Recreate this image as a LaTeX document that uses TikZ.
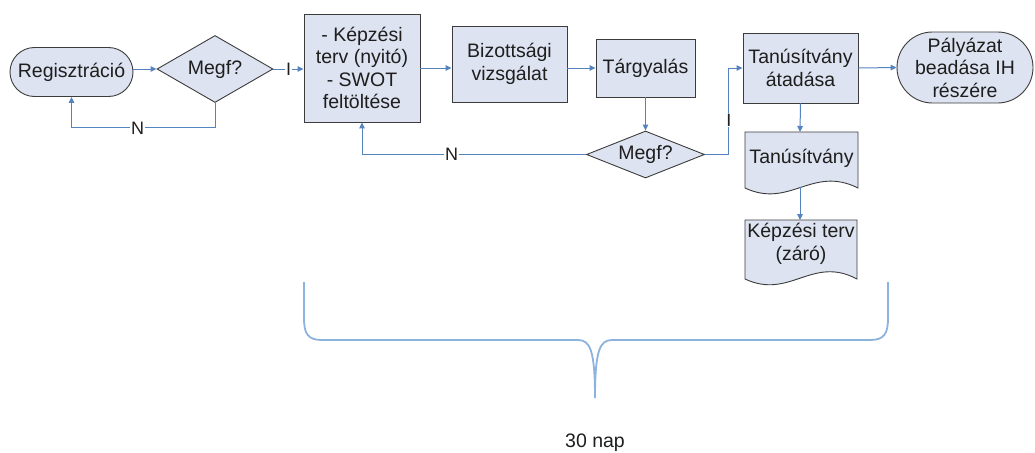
\documentclass[tikz,border=0pt]{standalone}
\usepackage{fontspec}
\setmainfont{Liberation Sans}
\usetikzlibrary{shapes.geometric,arrows.meta}
\definecolor{boxfill}{RGB}{221,227,240}
\definecolor{boxline}{RGB}{60,60,60}
\definecolor{arr}{RGB}{84,131,192}
\definecolor{bracecol}{RGB}{140,178,222}
\definecolor{txt}{RGB}{30,30,30}
\begin{document}
\begin{tikzpicture}[x=1pt,y=-1pt,
  base/.style={draw=boxline, fill=boxfill, line width=0.9pt, text=txt,
    font=\fontsize{19.5}{22.5}\selectfont, align=center, inner sep=0pt},
  procbox/.style={base, rectangle},
  termbox/.style={base, rectangle},
  decision/.style={base, diamond},
  doctext/.style={text=txt, font=\fontsize{19.5}{22.5}\selectfont, align=center, inner sep=0pt},
  conn/.style={draw=arr, line width=1pt, -{Triangle[length=6pt,width=5.5pt]}},
  lbl/.style={fill=white, text=txt, font=\fontsize{18}{20}\selectfont, inner sep=1pt},
  bracestyle/.style={draw=bracecol, line width=1.8pt}]
\useasboundingbox (0,0) rectangle (1035,452);

% nodes
\node[termbox, rounded corners=24.5pt, minimum width=123pt, minimum height=49pt] (reg) at (71.5,72) {Regisztráció};
\node[decision, aspect=1.73, minimum width=116pt, minimum height=67pt] (d1) at (215,69) {Megf?};
\node[procbox, minimum width=116pt, minimum height=108pt] (b1) at (362,68) {- Képzési\\terv (nyitó)\\- SWOT\\feltöltése};
\node[procbox, minimum width=115pt, minimum height=76pt] (b2) at (509.5,64) {Bizottsági\\vizsgálat};
\node[procbox, minimum width=99pt, minimum height=58pt] (b3) at (645.5,68) {Tárgyalás};
\node[decision, aspect=2.5, minimum width=118pt, minimum height=47pt] (d2) at (645.5,154.5) {Megf?};
\node[procbox, minimum width=115pt, minimum height=70pt] (b4) at (800.5,68) {Tanúsítvány\\átadása};
\node[termbox, rounded corners=35.5pt, minimum width=136pt, minimum height=71pt] (pal) at (965,67.5) {Pályázat\\beadása IH\\részére};

% documents
\draw[base] (745,132) -- (858,132) -- (858,188) .. controls (812,165) and (790,209) .. (745,188) -- cycle;
\node[doctext] (doc1) at (801.5,158) {Tanúsítvány};
\coordinate (doc1top) at (800,132);
\coordinate (doc1bot) at (800,187);
\draw[base] (745,220) -- (857,220) -- (857,279) .. controls (812,255) and (790,300) .. (745,279) -- cycle;
\node[doctext] (doc2) at (801,244) {Képzési terv\\(záró)};
\coordinate (doc2top) at (800,220);

% connectors
\draw[conn] (reg.east |- d1.west) -- (d1.west);
\draw[conn] (d1.east) -- node[lbl]{I} (b1.west |- d1.east);
\draw[conn] (d1.south) -- ++(0,25) -| node[lbl, pos=0.27]{N} (reg.south);
\draw[conn] (b1.east |- b3.west) -- (b2.west |- b3.west);
\draw[conn] (b2.east |- b3.west) -- (b3.west);
\draw[conn] (b3.south) -- (d2.north);
\draw[conn] (d2.west) -| node[lbl, pos=0.3]{N} (b1.south);
\draw[conn] (d2.east) -- ++(24,0) |- node[lbl, pos=0.2]{I} (b4.west);
\draw[conn] (b4.east) -- (pal.west);
\draw[conn] (b4.south) -- (doc1top);
\draw[conn] (doc1bot) -- (doc2top);

% brace
\coordinate (bl) at (304,282);
\coordinate (br) at (888,282);
\coordinate (btip) at (595,398);
\draw[bracestyle] (bl) -- (304,318) .. controls (304,334) and (308,340) .. (322,340) -- (578,340)
  .. controls (590,340) and (595,350) .. (btip)
  .. controls (595,350) and (600,340) .. (612,340) -- (870,340)
  .. controls (884,340) and (888,334) .. (888,318) -- (br);
\node[text=txt, font=\fontsize{19.5}{22.5}\selectfont] (days) at (595,443) {30 nap};
\end{tikzpicture}
\end{document}
